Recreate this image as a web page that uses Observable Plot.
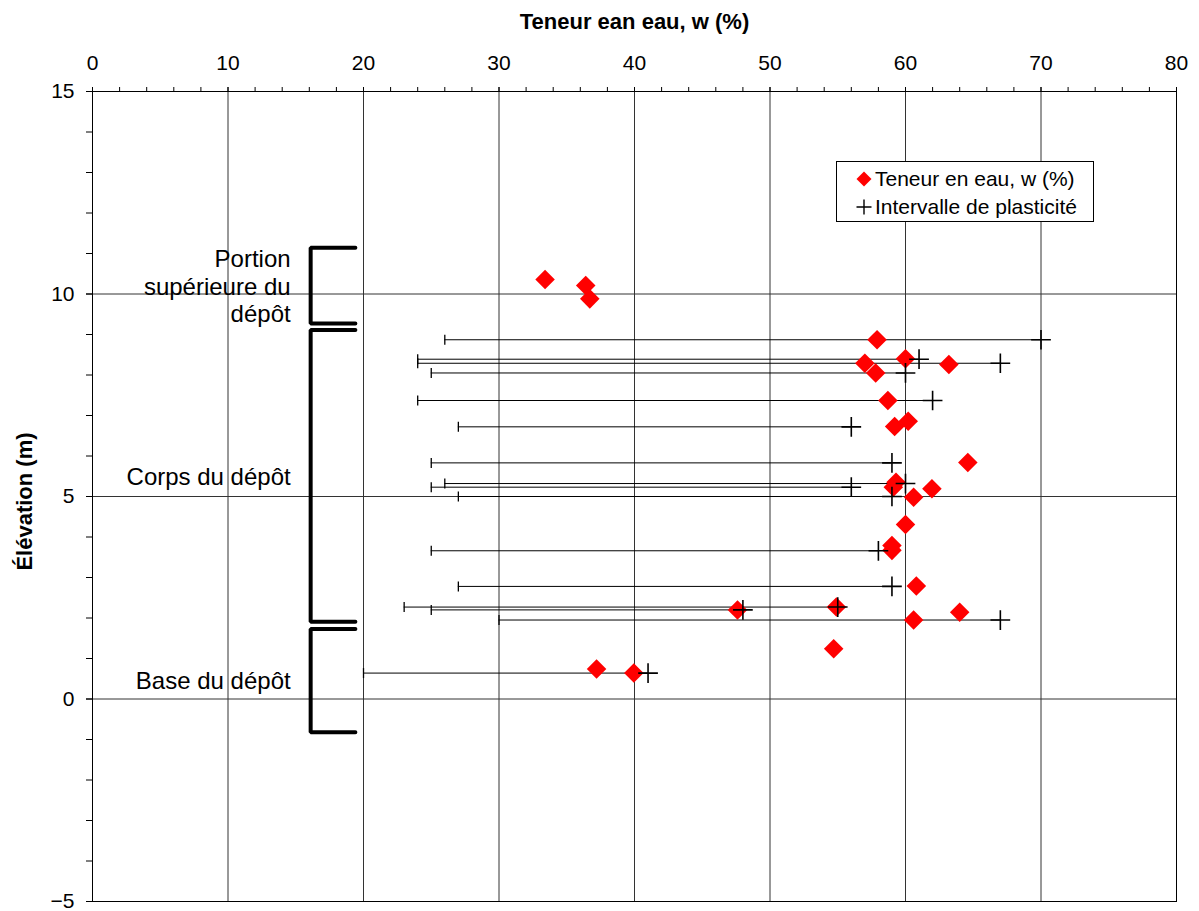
<!DOCTYPE html>
<html>
<head>
<meta charset="utf-8">
<script src="https://cdn.jsdelivr.net/npm/d3@7"></script>
<script src="https://cdn.jsdelivr.net/npm/@observablehq/plot@0.6"></script>
<style>
  body { margin: 0; background: #fff; font-family: "Liberation Sans", Arial, sans-serif; }
  #wrap { position: relative; width: 1199px; height: 911px; }
  #legend { position: absolute; left: 836px; top: 161px; width: 256px; height: 59px;
            border: 1px solid #000; background: #fff; font-size: 21px; color: #000; }
  #legend .row { position: absolute; left: 19px; height: 26px; display: flex; align-items: center; white-space: nowrap; }
  #legend .row svg { width: 16px; height: 16px; margin-right: 3px; }
</style>
</head>
<body>
<div id="wrap"></div>
<script>
// ---------- data ----------
const xTitle = "Teneur ean eau, w (%)";
const yTitle = "Élévation (m)";
const legendLabels = ["Teneur en eau, w (%)", "Intervalle de plasticité"];

const xTicks = [0, 10, 20, 30, 40, 50, 60, 70, 80];
const xMinor = d3.range(0, 81, 2);
const yTicks = [-5, 0, 5, 10, 15];
const yMinor = d3.range(-5, 16, 1);

// water content points
const wcElev  = [10.36, 10.21, 9.88, 8.87, 8.40, 8.26, 8.29, 8.05, 7.37, 6.73, 6.86, 5.84, 5.35, 5.23, 4.98, 5.19, 4.31, 3.79, 3.67, 2.79, 2.20, 2.27, 2.14, 1.95, 1.24, 0.74, 0.64];
const wcValue = [33.4, 36.4, 36.7, 57.9, 60.0, 63.2, 57.0, 57.8, 58.7, 59.2, 60.2, 64.6, 59.3, 59.1, 60.6, 61.95, 60.0, 59.0, 59.0, 60.8, 47.6, 54.9, 64.0, 60.6, 54.7, 37.2, 39.95];

// plasticity intervals (plastic limit -> liquid limit)
const piElev = [8.87, 8.39, 8.29, 8.05, 7.37, 6.72, 5.83, 5.32, 5.23, 5.00, 3.66, 2.78, 2.27, 2.20, 1.95, 0.64];
const piLow  = [26, 24, 24, 25, 24, 27, 25, 26, 25, 27, 25, 27, 23, 25, 30, 20];
const piHigh = [70, 61, 67, 60, 62, 56, 59, 60, 56, 59, 58, 59, 55, 48, 67, 41];

// deposit zones (elevation ranges)
const zoneNames  = ["Portion\nsupérieure du\ndépôt", "Corps du dépôt", "Base du dépôt"];
const zoneTop    = [11.14, 9.11, 1.73];
const zoneBottom = [9.27, 1.91, -0.82];

// ---------- tables ----------
const wc = wcElev.map((y, i) => ({ y, x: wcValue[i] }));
const pi = piElev.map((y, i) => ({ y, lo: piLow[i], hi: piHigh[i] }));
const zones = zoneNames.map((name, i) => ({ name, top: zoneTop[i], bottom: zoneBottom[i] }));

const BRACKET_X = 16.1, BRACKET_END = 19.4;
const bracketPts = zones.flatMap(z => [
  { z: z.name, x: BRACKET_END, y: z.top },
  { z: z.name, x: BRACKET_X, y: z.top },
  { z: z.name, x: BRACKET_X, y: z.bottom },
  { z: z.name, x: BRACKET_END, y: z.bottom }
]);

const vbar = { draw(ctx, size) { const h = Math.sqrt(size / Math.PI); ctx.moveTo(0, -h); ctx.lineTo(0, h); } };

const font = "'Liberation Sans', Arial, sans-serif";

const chart = Plot.plot({
  width: 1199, height: 911,
  marginTop: 91, marginLeft: 92, marginRight: 23, marginBottom: 10,
  x: { domain: [0, 80] },
  y: { domain: [-5, 15] },
  style: { fontFamily: font, fontSize: "21px", color: "#000", background: "#fff", overflow: "visible" },
  marks: [
    Plot.gridX(xTicks, { stroke: "#333", strokeOpacity: 1 }),
    Plot.gridY(yTicks, { stroke: "#333", strokeOpacity: 1 }),
    Plot.frame({ stroke: "#000" }),
    Plot.axisX(xMinor, { anchor: "top", tickSize: 5, tickFormat: () => "", label: null }),
    Plot.axisX(xTicks, { anchor: "top", tickSize: 5, tickPadding: 17, label: null, fontSize: 21 }),
    Plot.axisY(yMinor, { anchor: "left", tickSize: 6, tickFormat: () => "", label: null }),
    Plot.axisY(yTicks, { anchor: "left", tickSize: 6, tickPadding: 12, label: null, fontSize: 21 }),
    Plot.text([xTitle], { text: d => d, frameAnchor: "top", dy: -78, fontWeight: "bold", fontSize: 22 }),
    Plot.text([yTitle], { text: d => d, frameAnchor: "left", textAnchor: "middle", dx: -68, dy: 5, rotate: -90, fontWeight: "bold", fontSize: 22 }),
    Plot.text(zones, { ariaLabel: "zone-label", x: () => BRACKET_X, y: d => (d.top + d.bottom) / 2, text: "name",
      textAnchor: "end", dx: -20, fontSize: 24, lineHeight: 1.15 }),
    Plot.line(bracketPts, { x: "x", y: "y", z: "z", stroke: "#000", strokeWidth: 4, strokeLinejoin: "miter", curve: "linear" }),
    Plot.ruleY(pi, { y: "y", x1: "lo", x2: "hi", stroke: "#000", strokeWidth: 1 }),
    Plot.dot(wc, { x: "x", y: "y", symbol: "diamond2", fill: "#ff0000", r: 8.8 }),
    Plot.dot(pi, { x: "hi", y: "y", symbol: "plus", stroke: "#000", strokeWidth: 1.6, r: 6.4 }),
    Plot.dot(pi, { x: "lo", y: "y", symbol: vbar, stroke: "#000", strokeWidth: 1.3, r: 5 })
  ]
});

const wrap = document.getElementById("wrap");
wrap.appendChild(chart);

// white background boxes behind the zone labels (covering the grid)
d3.select(chart).selectAll('g[aria-label="zone-label"] text').each(function () {
  const bb = this.getBBox();
  const padL = 20, padR = 3, padY = 6;
  d3.select(this.parentNode).insert("rect", () => this)
    .attr("x", bb.x - padL).attr("y", bb.y - padY)
    .attr("width", bb.width + padL + padR).attr("height", bb.height + 2 * padY)
    .attr("transform", this.getAttribute("transform"))
    .attr("fill", "#fff");
});

// legend
const legend = document.createElement("div");
legend.id = "legend";
legend.innerHTML =
  `<div class="row" style="top:4px"><svg viewBox="-8 -8 16 16"><path d="M0,-7.5L7.5,0L0,7.5L-7.5,0Z" fill="#ff0000"/></svg><span>${legendLabels[0]}</span></div>` +
  `<div class="row" style="top:32px"><svg viewBox="-8 -8 16 16"><path d="M-7.5,0H7.5M0,-7.5V7.5" stroke="#000" stroke-width="1.4" fill="none"/></svg><span>${legendLabels[1]}</span></div>`;
wrap.appendChild(legend);
</script>
</body>
</html>
